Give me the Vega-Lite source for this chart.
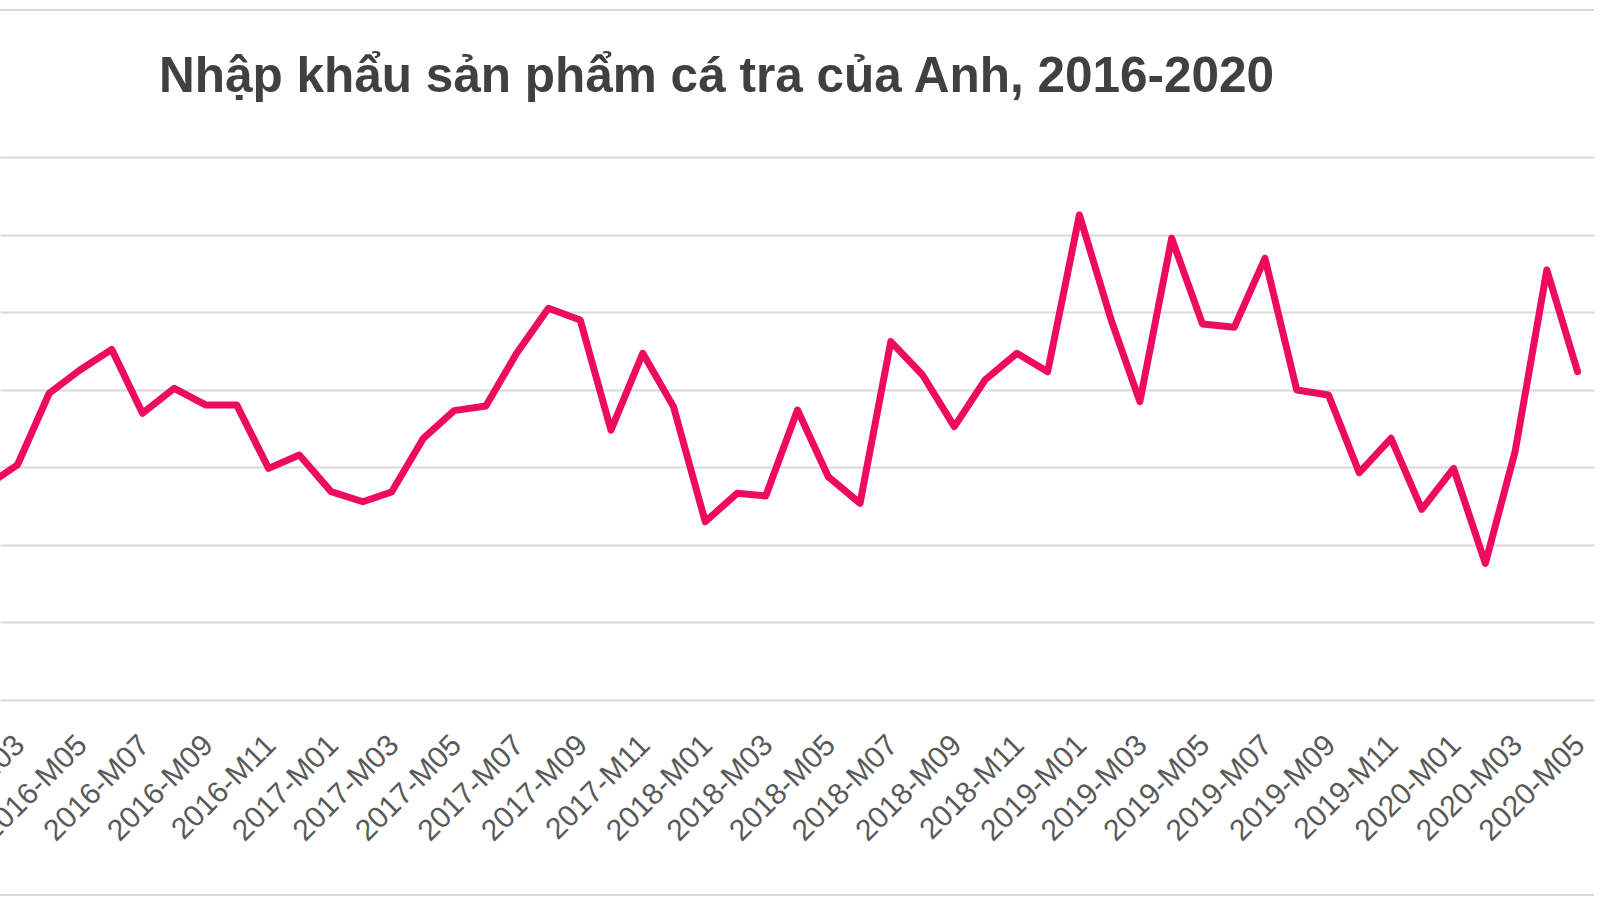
{
  "$schema": "https://vega.github.io/schema/vega-lite/v6.json",
  "width": 1594,
  "height": 543,
  "autosize": {"type": "none"},
  "padding": {"left": 0, "top": 157, "right": 6, "bottom": 200},
  "background": "white",
  "config": {"view": {"stroke": null}},
  "title": {
    "text": "Nhập khẩu sản phẩm cá tra của Anh, 2016-2020",
    "anchor": "start",
    "frame": "group",
    "dx": 159,
    "offset": 0,
    "dy": 133,
    "baseline": "alphabetic",
    "font": "Liberation Sans",
    "fontSize": 49.5,
    "fontWeight": "bold",
    "color": "#404040"
  },
  "layer": [
    {
      "data": {"values": [{"frame": "top"}]},
      "mark": {"type": "rule", "color": "#d9d9d9", "strokeWidth": 2},
      "encoding": {"y": {"datum": 4448, "type": "quantitative"}}
    },
    {
      "data": {"values": [{"frame": "bottom"}]},
      "mark": {"type": "rule", "color": "#d9d9d9", "strokeWidth": 2},
      "encoding": {"y": {"datum": -1257, "type": "quantitative"}}
    },
    {
      "data": {
        "values": [
          {"date": "2016-02-01", "value": 1386},
          {"date": "2016-03-01", "value": 1515},
          {"date": "2016-04-01", "value": 1977},
          {"date": "2016-05-01", "value": 2127},
          {"date": "2016-06-01", "value": 2260},
          {"date": "2016-07-01", "value": 1848},
          {"date": "2016-08-01", "value": 2009},
          {"date": "2016-09-01", "value": 1901},
          {"date": "2016-10-01", "value": 1901},
          {"date": "2016-11-01", "value": 1493},
          {"date": "2016-12-01", "value": 1579},
          {"date": "2017-01-01", "value": 1343},
          {"date": "2017-02-01", "value": 1278},
          {"date": "2017-03-01", "value": 1341},
          {"date": "2017-04-01", "value": 1687},
          {"date": "2017-05-01", "value": 1865},
          {"date": "2017-06-01", "value": 1895},
          {"date": "2017-07-01", "value": 2235},
          {"date": "2017-08-01", "value": 2525},
          {"date": "2017-09-01", "value": 2449},
          {"date": "2017-10-01", "value": 1740},
          {"date": "2017-11-01", "value": 2235},
          {"date": "2017-12-01", "value": 1891},
          {"date": "2018-01-01", "value": 1149},
          {"date": "2018-02-01", "value": 1332},
          {"date": "2018-03-01", "value": 1315},
          {"date": "2018-04-01", "value": 1869},
          {"date": "2018-05-01", "value": 1439},
          {"date": "2018-06-01", "value": 1268},
          {"date": "2018-07-01", "value": 2310},
          {"date": "2018-08-01", "value": 2095},
          {"date": "2018-09-01", "value": 1762},
          {"date": "2018-10-01", "value": 2063},
          {"date": "2018-11-01", "value": 2235},
          {"date": "2018-12-01", "value": 2116},
          {"date": "2019-01-01", "value": 3126},
          {"date": "2019-02-01", "value": 2449},
          {"date": "2019-03-01", "value": 1923},
          {"date": "2019-04-01", "value": 2976},
          {"date": "2019-05-01", "value": 2424},
          {"date": "2019-06-01", "value": 2402},
          {"date": "2019-07-01", "value": 2847},
          {"date": "2019-08-01", "value": 1998},
          {"date": "2019-09-01", "value": 1966},
          {"date": "2019-10-01", "value": 1465},
          {"date": "2019-11-01", "value": 1687},
          {"date": "2019-12-01", "value": 1229},
          {"date": "2020-01-01", "value": 1493},
          {"date": "2020-02-01", "value": 881},
          {"date": "2020-03-01", "value": 1600},
          {"date": "2020-04-01", "value": 2772},
          {"date": "2020-05-01", "value": 2116}
        ]
      },
      "mark": {
        "type": "line",
        "color": "#EE0A5E",
        "strokeWidth": 7,
        "clip": true,
        "strokeJoin": "round",
        "strokeCap": "round"
      },
      "encoding": {
        "x": {
          "field": "date",
          "type": "temporal",
          "scale": {
            "type": "utc",
            "domain": [
              {"year": 2016, "month": 2, "date": 13, "utc": true},
              {"year": 2020, "month": 5, "date": 17, "utc": true}
            ]
          },
          "axis": {
            "title": null,
            "grid": false,
            "domain": false,
            "ticks": false,
            "tickCount": {"interval": "month", "step": 2},
            "labelExpr": "utcFormat(datum.value, '%Y-M%m')",
            "labelAngle": -45,
            "labelAlign": "right",
            "labelBaseline": "middle",
            "labelPadding": 40,
            "labelOffset": 2,
            "labelFont": "Liberation Sans",
            "labelFontSize": 30,
            "labelColor": "#595959",
            "labelOverlap": false,
            "labelFlush": false,
            "labelBound": false
          }
        },
        "y": {
          "field": "value",
          "type": "quantitative",
          "scale": {"domain": [0, 3500], "nice": false, "zero": true},
          "axis": {
            "title": null,
            "labels": false,
            "ticks": false,
            "domain": false,
            "grid": true,
            "gridColor": "#d9d9d9",
            "gridWidth": 2,
            "values": [0, 500, 1000, 1500, 2000, 2500, 3000, 3500]
          }
        }
      }
    }
  ]
}
